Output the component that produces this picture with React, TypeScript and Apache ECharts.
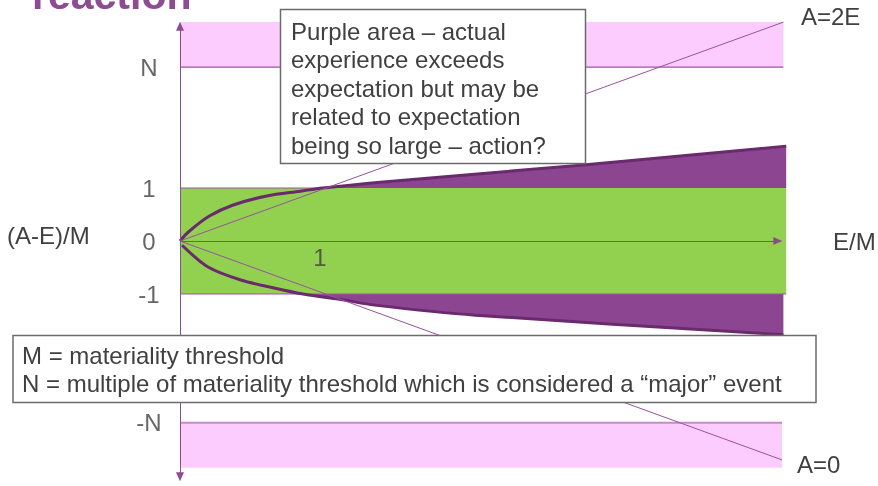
import React, { useEffect, useRef } from "react";
import * as echarts from "echarts";

// ---- data (E/M on x, (A-E)/M on y) ----
const tickValues = [3.28, 1, 0, -1, -3.43];
const tickLabels = ["N", "1", "0", "-1", "-N"];
const xTickValues = [1];
const xTickLabels = ["1"];

const pinkTop = [[0, 3.28, 4.31, 4.13]]; // x0, y0, x1, y1
const pinkBottom = [[0, -4.28, 4.3, -3.43]];
const greenBand = [[0, -1, 4.33, 1]];

const upperCurve = [
  [0, 0], [0.06, 0.17], [0.21, 0.47], [0.38, 0.68], [0.62, 0.85], [0.86, 0.94],
  [1.02, 1.0], [1.43, 1.11], [2.86, 1.43], [4.33, 1.79],
];
const lowerCurve = [
  [0.015, -0.08], [0.2, -0.49], [0.44, -0.74], [0.68, -0.89], [0.88, -1.0],
  [1.16, -1.11], [1.39, -1.21], [2.11, -1.4], [4.31, -1.77],
];
const lineA2E = [[0, 0], [4.31, 4.13]];
const lineA0 = [[0, 0], [4.3, -4.13]];
const nLineTop = [[0, 3.28], [4.31, 3.28]];
const nLineBottom = [[0, -3.43], [4.3, -3.43]];
const oneLines = [[[0, 1], [1.02, 1]], [[0, -1], [4.33, -1]]];
const yAxisEnds = [-4.45, 4.05];
const xAxisEnd = 4.27;

const noteTop = [
  "Purple area – actual",
  "experience exceeds",
  "expectation but may be",
  "related to expectation",
  "being so large – action?",
];
const noteBottom = [
  "M = materiality threshold",
  "N = multiple of materiality threshold which is considered a “major” event",
];

const FONT = "'Liberation Sans', Arial, Helvetica, sans-serif";
const TXT = "#404040";
const PURPLE = "#8E4A92";
const FILL = "#8C4590";
const CURVE = "#6A2A6E";
const PINK = "#FDCCFF";
const GREEN = "#92D050";

function rectSeries(data: number[][], color: string) {
  return {
    type: "custom",
    silent: true,
    data,
    renderItem: (_p: any, api: any) => {
      const a = api.coord([api.value(0), api.value(3)]);
      const b = api.coord([api.value(2), api.value(1)]);
      return {
        type: "rect",
        shape: { x: a[0], y: a[1], width: b[0] - a[0], height: b[1] - a[1] },
        style: { fill: color },
      };
    },
  };
}

function lineSeries(data: number[][], color: string, width: number, extra: any = {}) {
  return {
    type: "line",
    data,
    symbol: "none",
    silent: true,
    lineStyle: { color, width },
    ...extra,
  };
}

export default function App() {
  const ref = useRef<HTMLDivElement>(null);
  useEffect(() => {
    if (!ref.current) return;
    const chart = echarts.init(ref.current, null, { renderer: "svg" });
    const upperFill = upperCurve.filter((p) => p[0] >= 1.02);
    const lowerFill = lowerCurve.filter((p) => p[0] >= 0.88);
    chart.setOption({
      animation: false,
      grid: { left: 180, top: 7.8, width: 616, height: 477 },
      xAxis: { type: "value", min: 0, max: 4.4, show: false },
      yAxis: { type: "value", min: -4.6, max: 4.4, show: false },
      series: [
        rectSeries(pinkTop, PINK),
        rectSeries(pinkBottom, PINK),
        rectSeries(greenBand, GREEN),
        lineSeries(nLineTop, "#9B57A0", 1.2),
        lineSeries(nLineBottom, "#C48CC7", 2),
        ...oneLines.map((d) => lineSeries(d, "#9B57A0", 1)),
        lineSeries(upperFill, FILL, 0, {
          smooth: 0.3,
          areaStyle: { color: FILL, opacity: 1, origin: 1 },
        }),
        lineSeries(lowerFill, FILL, 0, {
          smooth: 0.3,
          areaStyle: { color: FILL, opacity: 1, origin: -1 },
        }),
        lineSeries(upperCurve, CURVE, 3, { smooth: 0.3 }),
        lineSeries(lowerCurve, CURVE, 3, { smooth: 0.3 }),
        lineSeries(lineA2E, "#9A52A0", 1),
        lineSeries(lineA0, "#9A52A0", 1),
        {
          type: "line",
          data: [],
          silent: true,
          markLine: {
            silent: true,
            animation: false,
            symbol: ["triangle", "triangle"],
            symbolSize: [8, 9],
            label: { show: false },
            lineStyle: { color: PURPLE, width: 1, type: "solid" },
            data: [
              [{ coord: [0, yAxisEnds[0]] }, { coord: [0, yAxisEnds[1]] }],
              [
                { coord: [0, 0], symbol: "none" },
                { coord: [xAxisEnd, 0] },
              ],
            ],
          },
        },
        {
          type: "scatter",
          silent: true,
          symbolSize: 0,
          clip: false,
          data: tickValues.map((v, i) => ({ value: [0, v], name: tickLabels[i] })),
          label: {
            show: true,
            position: "inside",
            offset: [-31, 0],
            formatter: (p: any) => p.name,
            fontFamily: FONT,
            fontSize: 24,
            color: TXT,
          },
        },
        {
          type: "scatter",
          silent: true,
          symbolSize: 0,
          clip: false,
          data: xTickValues.map((v, i) => ({ value: [v, 0], name: xTickLabels[i] })),
          label: {
            show: true,
            position: "inside",
            offset: [0, 16],
            formatter: (p: any) => p.name,
            fontFamily: FONT,
            fontSize: 24,
            color: TXT,
          },
        },
      ],
      graphic: [
        {
          type: "text",
          z: 100,
          x: 32,
          y: -5,
          style: {
            text: "reaction",
            font: `bold 41px ${FONT}`,
            fill: "#8E4A93",
            verticalAlign: "middle",
          },
        },
        {
          type: "text",
          z: 100,
          x: 7,
          y: 235,
          style: { text: "(A-E)/M", font: `24px ${FONT}`, fill: TXT, verticalAlign: "middle" },
        },
        {
          type: "text",
          z: 100,
          x: 833,
          y: 241.5,
          style: { text: "E/M", font: `24px ${FONT}`, fill: TXT, verticalAlign: "middle" },
        },
        {
          type: "text",
          z: 100,
          x: 801,
          y: 16.5,
          style: { text: "A=2E", font: `24px ${FONT}`, fill: TXT, verticalAlign: "middle" },
        },
        {
          type: "text",
          z: 100,
          x: 797,
          y: 464.5,
          style: { text: "A=0", font: `24px ${FONT}`, fill: TXT, verticalAlign: "middle" },
        },
        {
          type: "rect",
          z: 100,
          shape: { x: 280.5, y: 9.5, width: 305, height: 154 },
          style: { fill: "#fff", stroke: "#6b6b6b", lineWidth: 1.5 },
        },
        {
          type: "text",
          z: 101,
          x: 291,
          y: 17,
          style: {
            text: noteTop.join("\n"),
            font: `24px ${FONT}`,
            lineHeight: 28.5,
            fill: TXT,
            verticalAlign: "top",
          },
        },
        {
          type: "rect",
          z: 100,
          shape: { x: 13, y: 335.5, width: 803, height: 67 },
          style: { fill: "#fff", stroke: "#6b6b6b", lineWidth: 1.5 },
        },
        {
          type: "text",
          z: 101,
          x: 22,
          y: 341.5,
          style: {
            text: noteBottom.join("\n"),
            font: `24px ${FONT}`,
            lineHeight: 28,
            fill: TXT,
            verticalAlign: "top",
          },
        },
      ],
    });
    return () => chart.dispose();
  }, []);
  return (
    <div
      ref={ref}
      style={{ position: "fixed", left: 0, top: 0, width: 878, height: 486 }}
    />
  );
}
